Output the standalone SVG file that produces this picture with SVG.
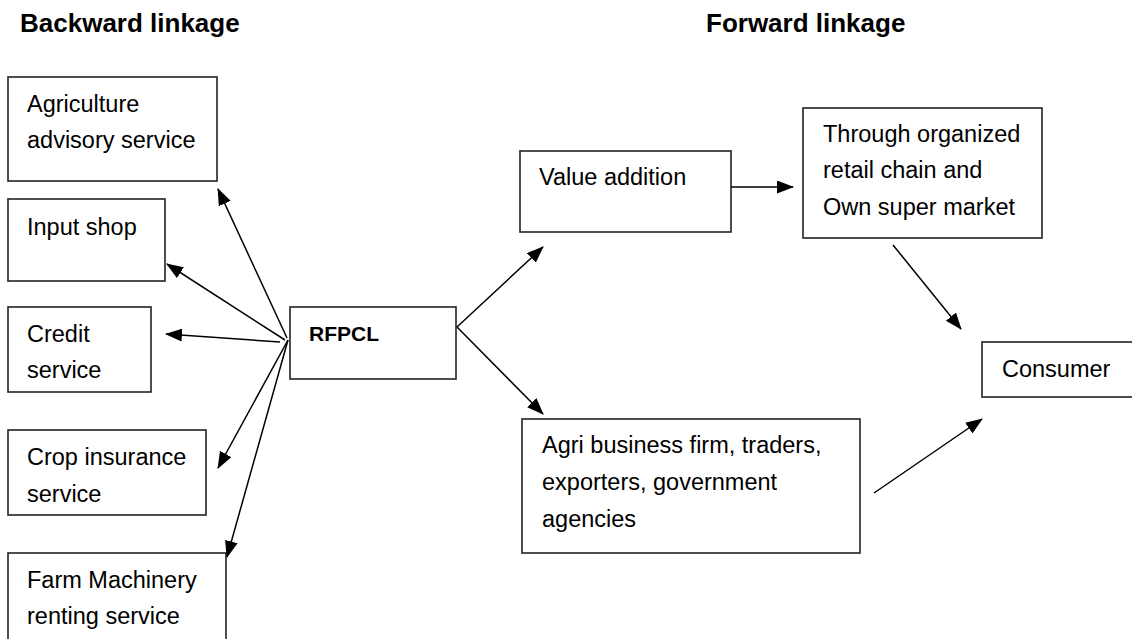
<svg xmlns="http://www.w3.org/2000/svg" width="1132" height="639" viewBox="0 0 1132 639">
<defs>
<style>
.box{fill:#fff;stroke:#222;stroke-width:1.6}
.t{font-family:"Liberation Sans",Arial,sans-serif;font-size:23.5px;fill:#000}
.b{font-family:"Liberation Sans",Arial,sans-serif;font-weight:bold;fill:#000}
.c{stroke:#000;stroke-width:1.5;fill:none;marker-end:url(#ah)}
</style>
<marker id="ah" markerUnits="userSpaceOnUse" markerWidth="18" markerHeight="14" refX="16" refY="6.5" orient="auto">
<path d="M0,0 L17,6.5 L0,13 z" fill="#000"/>
</marker>
</defs>
<rect width="1132" height="639" fill="#fff"/>
<text class="b" x="20" y="32" font-size="26">Backward linkage</text>
<text class="b" x="706" y="32" font-size="26">Forward linkage</text>

<g id="n-agri"><rect class="box" x="8" y="77" width="209" height="104"/><text class="t" x="27" y="112">Agriculture</text><text class="t" x="27" y="148">advisory service</text></g>
<g id="n-input"><rect class="box" x="8" y="199" width="157" height="82"/><text class="t" x="27" y="235">Input shop</text></g>
<g id="n-credit"><rect class="box" x="8" y="307" width="143" height="85"/><text class="t" x="27" y="342">Credit</text><text class="t" x="27" y="378">service</text></g>
<g id="n-crop"><rect class="box" x="8" y="430" width="198" height="85"/><text class="t" x="27" y="465">Crop insurance</text><text class="t" x="27" y="502">service</text></g>
<g id="n-farm"><rect class="box" x="8" y="553" width="218" height="100"/><text class="t" x="27" y="588">Farm Machinery</text><text class="t" x="27" y="624">renting service</text></g>
<g id="n-rfpcl"><rect class="box" x="290" y="307" width="166" height="72"/><text class="b" x="309" y="341" font-size="21">RFPCL</text></g>
<g id="n-value"><rect class="box" x="520" y="151" width="211" height="81"/><text class="t" x="539" y="185">Value addition</text></g>
<g id="n-retail"><rect class="box" x="803" y="108" width="239" height="130"/><text class="t" x="823" y="142">Through organized</text><text class="t" x="823" y="178">retail chain and</text><text class="t" x="823" y="215">Own super market</text></g>
<g id="n-agribiz"><rect class="box" x="522" y="419" width="338" height="134"/><text class="t" x="542" y="453">Agri business firm, traders,</text><text class="t" x="542" y="490">exporters, government</text><text class="t" x="542" y="527">agencies</text></g>
<g id="n-consumer"><rect class="box" x="982" y="342" width="160" height="55"/><text class="t" x="1002" y="377">Consumer</text></g>

<g id="connectors">
<line class="c" x1="287" y1="338" x2="218" y2="189"/>
<line class="c" x1="285" y1="340" x2="167" y2="264"/>
<line class="c" x1="280" y1="342" x2="166" y2="334"/>
<line class="c" x1="288" y1="340" x2="218" y2="468"/>
<line class="c" x1="288" y1="340" x2="227" y2="557"/>
<line class="c" x1="457" y1="327" x2="543" y2="247"/>
<line class="c" x1="457" y1="327" x2="543" y2="414"/>
<line class="c" x1="731" y1="187" x2="793" y2="187"/>
<line class="c" x1="893" y1="245" x2="961" y2="329"/>
<line class="c" x1="874" y1="493" x2="982" y2="419"/>
</g>
</svg>
